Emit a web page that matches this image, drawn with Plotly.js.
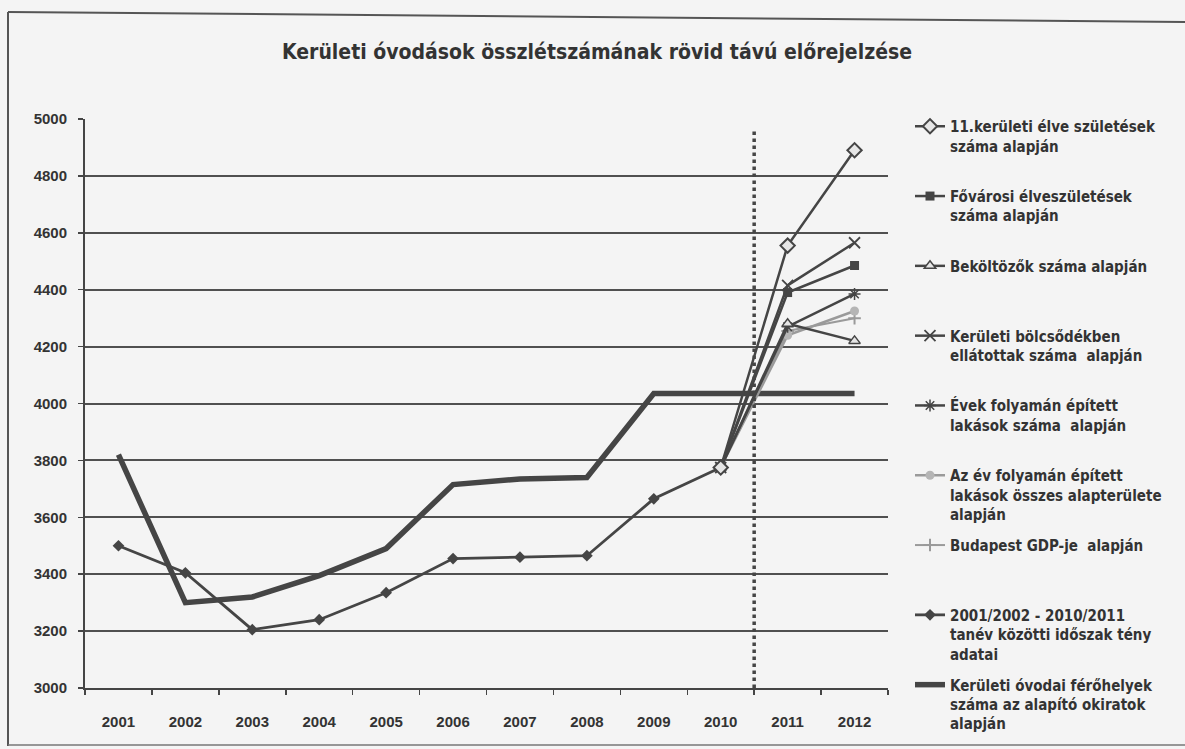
<!DOCTYPE html>
<html>
<head>
<meta charset="utf-8">
<script src="https://cdn.plot.ly/plotly-3.0.1.min.js"></script>
<style>
  html, body { margin: 0; padding: 0; background: #f4f4f4; }
  #chart { width: 1185px; height: 749px; }
</style>
</head>
<body>
<div id="chart"></div>
<script>
// ---- data ----
const years = ['2001','2002','2003','2004','2005','2006','2007','2008','2009','2010','2011','2012'];
const yTicks = [3000, 3200, 3400, 3600, 3800, 4000, 4200, 4400, 4600, 4800, 5000];

const actualData   = [3500, 3405, 3205, 3240, 3335, 3455, 3460, 3465, 3665, 3775, null, null];
const capacity     = [3820, 3300, 3320, 3395, 3490, 3715, 3735, 3740, 4035, 4035, 4035, 4035];
const fcBirthsDist = [null, null, null, null, null, null, null, null, null, 3775, 4555, 4890];
const fcBirthsCap  = [null, null, null, null, null, null, null, null, null, 3775, 4390, 4485];
const fcMovers     = [null, null, null, null, null, null, null, null, null, 3775, 4280, 4220];
const fcNursery    = [null, null, null, null, null, null, null, null, null, 3775, 4415, 4565];
const fcFlats      = [null, null, null, null, null, null, null, null, null, 3775, 4270, 4385];
const fcFlatArea   = [null, null, null, null, null, null, null, null, null, 3775, 4240, 4325];
const fcGdp        = [null, null, null, null, null, null, null, null, null, 3775, 4255, 4300];

const names = [
  '11.kerületi élve születések<br>száma alapján',
  'Fővárosi élveszületések<br>száma alapján',
  'Beköltözők száma alapján',
  'Kerületi bölcsődékben<br>ellátottak száma  alapján',
  'Évek folyamán épített<br>lakások száma  alapján',
  'Az év folyamán épített<br>lakások összes alapterülete<br>alapján',
  'Budapest GDP-je  alapján',
  '2001/2002 - 2010/2011<br>tanév közötti időszak tény<br>adatai',
  'Kerületi óvodai férőhelyek<br>száma az alapító okiratok<br>alapján'
];
const forecastStart = 9.5; // between 2010 and 2011 (category index)

// ---- style ----
const INK = '#454545';
const LIGHT = '#9a9a9a';
const FONT = '"Liberation Sans Narrow", "Arial Narrow", "DejaVu Sans Condensed", sans-serif';
const FONT_W = '"Liberation Sans", Arial, sans-serif';

function pad3(s) {
  const n = s.split('<br>').length;
  let out = s;
  for (let i = n; i < 3; i++) out += '<br>\u00a0';
  return out;
}

function tr(y, name, idx, opts) {
  return Object.assign({
    x: years, y: y, name: pad3(name), type: 'scatter', mode: 'lines+markers',
    legendgroup: 'g' + idx, legendrank: idx + 1, connectgaps: false,
    line: { color: INK, width: 2.5 },
    cliponaxis: false
  }, opts);
}

const data = [
  tr(capacity, names[8], 8, { mode: 'lines', line: { color: INK, width: 5.5 } }),
  tr(actualData, names[7], 7, { line: { color: INK, width: 2.8 }, marker: { symbol: 'diamond', size: 9, color: INK } }),
  tr(fcGdp, names[6], 6, { line: { color: LIGHT, width: 2 }, marker: { symbol: 'cross-thin-open', size: 9, color: LIGHT, line: { width: 2, color: LIGHT } } }),
  tr(fcFlatArea, names[5], 5, { line: { color: LIGHT, width: 2.5 }, marker: { symbol: 'circle', size: 9, color: '#b5b5b5' } }),
  tr(fcFlats, names[4], 4, { marker: { symbol: 'asterisk-open', size: 10, color: INK, line: { width: 1.5, color: INK } } }),
  tr(fcMovers, names[2], 2, { marker: { symbol: 'triangle-up', size: 10, color: '#e6e6e6', line: { width: 1.5, color: INK } } }),
  tr(fcBirthsCap, names[1], 1, { marker: { symbol: 'square', size: 9, color: INK } }),
  tr(fcNursery, names[3], 3, { marker: { symbol: 'x-thin-open', size: 11, color: INK, line: { width: 1.8, color: INK } } }),
  tr(fcBirthsDist, names[0], 0, { marker: { symbol: 'diamond', size: 11, color: '#e6e6e6', line: { width: 2, color: INK } } })
];

// geometry: large plot area, axes confined via domain so the tall legend fits
const W = 1185, H = 749;
const L = 85, R = 297, T = 20, B = 20;
const pw = W - L - R, ph = H - T - B;
const px = v => (v - L) / pw;
const py = v => (H - B - v) / ph;
const plotTop = 119, plotBottom = 688;

const layout = {
  width: W, height: H,
  margin: { l: L, r: R, t: T, b: B, autoexpand: false },
  paper_bgcolor: '#f4f4f4',
  plot_bgcolor: '#f4f4f4',
  font: { family: FONT_W, color: '#3a3a3a' },
  title: {
    text: 'Kerületi óvodások összlétszámának rövid távú előrejelzése',
    font: { family: FONT, size: 21, color: '#333', weight: 'bold' },
    x: 597 / W, xanchor: 'center', xref: 'container',
    y: 1 - 52 / H, yanchor: 'middle', yref: 'container'
  },
  xaxis: {
    type: 'category', range: [-0.5, 11.5], anchor: 'y', automargin: false,
    showgrid: false, zeroline: false,
    showline: true, linecolor: INK, linewidth: 2,
    ticks: 'outside', tickson: 'boundaries', ticklen: 5, tickcolor: INK, tickwidth: 1.5,
    ticklabelstandoff: 19,
    tickfont: { family: FONT_W, size: 15, color: '#333', weight: 'bold' }
  },
  yaxis: {
    domain: [py(plotBottom), py(plotTop)], automargin: false,
    range: [3000, 5000], tickvals: yTicks, ticktext: yTicks.map(String),
    showgrid: true, gridcolor: '#505050', gridwidth: 2,
    zeroline: false, showline: true, linecolor: INK, linewidth: 2,
    ticks: 'outside', ticklen: 5, tickcolor: INK, tickwidth: 1.5,
    ticklabelstandoff: 8,
    tickfont: { family: FONT_W, size: 15, color: '#333', weight: 'bold' }
  },
  showlegend: true,
  legend: {
    x: px(910), xanchor: 'left', y: py(110), yanchor: 'top',
    bgcolor: 'rgba(0,0,0,0)', borderwidth: 0,
    valign: 'top', tracegroupgap: 8.3, traceorder: 'grouped',
    font: { family: FONT, size: 15, color: '#333', weight: 'bold' },
    itemwidth: 30
  },
  shapes: [
    { type: 'line', xref: 'x', yref: 'y', x0: forecastStart, x1: forecastStart, y0: 3000, y1: 4960,
      line: { color: INK, width: 3.5, dash: 'dot' }, layer: 'above' },
    { type: 'line', xref: 'paper', yref: 'paper', x0: px(8), y0: py(12), x1: px(1185), y1: py(22),
      line: { color: '#555', width: 2 } },
    { type: 'line', xref: 'paper', yref: 'paper', x0: px(8), y0: py(12), x1: px(8), y1: py(746),
      line: { color: '#555', width: 2 } },
    { type: 'line', xref: 'paper', yref: 'paper', x0: px(8), y0: py(745), x1: px(1185), y1: py(745),
      line: { color: '#777', width: 1.5 } }
  ]
};

Plotly.newPlot('chart', data, layout, { displayModeBar: false, staticPlot: true });
</script>
</body>
</html>
